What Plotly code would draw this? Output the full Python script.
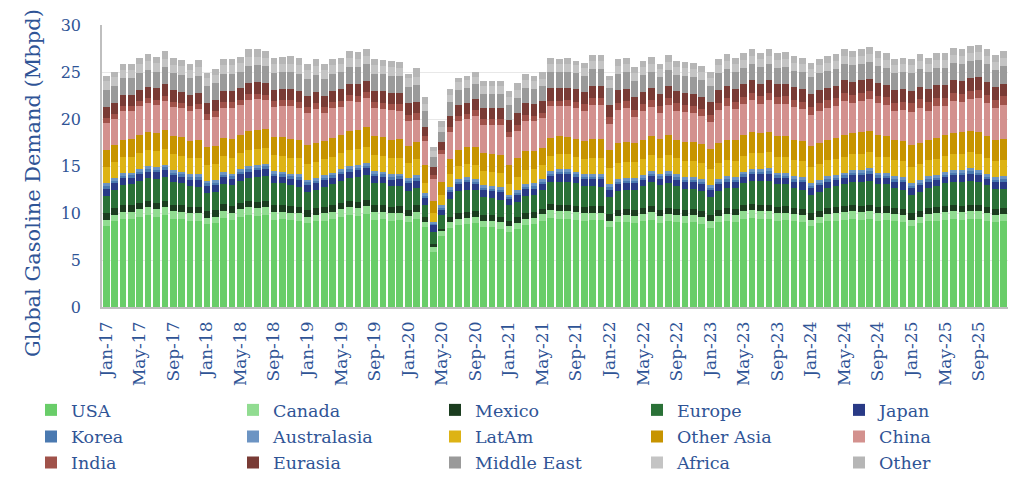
import plotly.graph_objects as go

MONTHS = ["Jan", "Feb", "Mar", "Apr", "May", "Jun", "Jul", "Aug", "Sep", "Oct", "Nov", "Dec"]
YEARS = ["17", "18", "19", "20", "21", "22", "23", "24", "25"]
CATEGORIES = [f"{m}-{y}" for y in YEARS for m in MONTHS]
TICK_LABELS = ["Jan-17", "May-17", "Sep-17", "Jan-18", "May-18", "Sep-18", "Jan-19", "May-19", "Sep-19",
               "Jan-20", "May-20", "Sep-20", "Jan-21", "May-21", "Sep-21", "Jan-22", "May-22", "Sep-22",
               "Jan-23", "May-23", "Sep-23", "Jan-24", "May-24", "Sep-24", "Jan-25", "May-25", "Sep-25"]

USA = [8.6, 9.1, 9.4, 9.4, 9.6, 9.8, 9.6, 9.8, 9.4, 9.4, 9.2, 9.2,
       8.8, 8.9, 9.5, 9.3, 9.6, 9.8, 9.7, 9.8, 9.3, 9.4, 9.3, 9.2,
       8.9, 9.1, 9.2, 9.4, 9.6, 9.8, 9.7, 9.9, 9.3, 9.4, 9.2, 9.3,
       9.0, 9.4, 8.5, 5.9, 7.6, 8.4, 8.7, 8.8, 8.9, 8.5, 8.5, 8.3,
       8.0, 8.3, 8.7, 8.8, 9.1, 9.5, 9.4, 9.4, 9.3, 9.2, 9.3, 9.3,
       8.5, 9.0, 9.0, 8.9, 9.1, 9.3, 8.9, 9.1, 9.0, 8.9, 9.0, 8.8,
       8.4, 9.0, 9.1, 9.0, 9.4, 9.5, 9.4, 9.4, 9.2, 9.3, 9.1, 9.0,
       8.6, 8.9, 9.1, 9.2, 9.3, 9.4, 9.3, 9.4, 9.2, 9.3, 9.1, 9.0,
       8.6, 8.9, 9.1, 9.2, 9.3, 9.4, 9.3, 9.4, 9.4, 9.2, 9.0, 9.1]
CANADA = [0.7, 0.7, 0.75, 0.75, 0.8, 0.8, 0.8, 0.8, 0.8, 0.75, 0.75, 0.75,
          0.7, 0.7, 0.75, 0.75, 0.8, 0.8, 0.8, 0.8, 0.8, 0.75, 0.75, 0.75,
          0.7, 0.7, 0.75, 0.75, 0.8, 0.8, 0.8, 0.8, 0.8, 0.75, 0.75, 0.75,
          0.7, 0.7, 0.55, 0.5, 0.45, 0.6, 0.7, 0.7, 0.7, 0.7, 0.7, 0.7,
          0.65, 0.65, 0.7, 0.7, 0.75, 0.8, 0.8, 0.8, 0.8, 0.75, 0.75, 0.75,
          0.7, 0.7, 0.75, 0.75, 0.8, 0.8, 0.8, 0.8, 0.8, 0.75, 0.75, 0.75,
          0.7, 0.7, 0.75, 0.75, 0.8, 0.8, 0.8, 0.8, 0.8, 0.75, 0.75, 0.75,
          0.7, 0.7, 0.75, 0.75, 0.8, 0.8, 0.8, 0.8, 0.8, 0.75, 0.75, 0.75,
          0.7, 0.7, 0.75, 0.75, 0.8, 0.8, 0.8, 0.8, 0.8, 0.75, 0.75, 0.75]
MEXICO = [0.7, 0.7, 0.7, 0.7, 0.7, 0.7, 0.7, 0.7, 0.7, 0.7, 0.7, 0.7,
          0.7, 0.7, 0.7, 0.7, 0.7, 0.7, 0.7, 0.7, 0.7, 0.7, 0.7, 0.7,
          0.7, 0.7, 0.7, 0.7, 0.7, 0.7, 0.7, 0.7, 0.7, 0.7, 0.7, 0.7,
          0.65, 0.7, 0.55, 0.3, 0.3, 0.55, 0.6, 0.6, 0.6, 0.6, 0.6, 0.6,
          0.55, 0.6, 0.6, 0.6, 0.6, 0.65, 0.65, 0.65, 0.65, 0.65, 0.65, 0.65,
          0.65, 0.65, 0.65, 0.65, 0.65, 0.65, 0.65, 0.65, 0.65, 0.65, 0.65, 0.65,
          0.65, 0.65, 0.65, 0.65, 0.65, 0.65, 0.65, 0.65, 0.65, 0.65, 0.65, 0.65,
          0.65, 0.65, 0.65, 0.65, 0.65, 0.65, 0.65, 0.65, 0.65, 0.65, 0.65, 0.65,
          0.65, 0.65, 0.65, 0.65, 0.65, 0.65, 0.65, 0.65, 0.65, 0.65, 0.65, 0.65]
EUROPE = [1.8, 1.9, 2.1, 2.2, 2.3, 2.4, 2.5, 2.5, 2.4, 2.3, 2.2, 2.1,
          1.9, 1.9, 2.1, 2.2, 2.3, 2.4, 2.6, 2.6, 2.4, 2.3, 2.2, 2.1,
          1.9, 1.9, 2.1, 2.2, 2.3, 2.4, 2.6, 2.6, 2.4, 2.3, 2.2, 2.1,
          2.0, 1.9, 1.3, 1.3, 1.4, 1.95, 2.3, 2.4, 2.2, 1.9, 1.8, 1.8,
          1.6, 1.6, 1.8, 1.8, 2.0, 2.3, 2.5, 2.5, 2.4, 2.3, 2.2, 2.1,
          1.9, 2.0, 2.1, 2.2, 2.3, 2.5, 2.6, 2.65, 2.45, 2.3, 2.2, 2.1,
          1.95, 2.0, 2.15, 2.25, 2.35, 2.5, 2.6, 2.6, 2.45, 2.35, 2.2, 2.1,
          1.95, 2.0, 2.15, 2.25, 2.35, 2.5, 2.6, 2.6, 2.45, 2.35, 2.2, 2.1,
          1.95, 2.0, 2.15, 2.25, 2.4, 2.5, 2.6, 2.6, 2.5, 2.35, 2.2, 2.1]
JAPAN = [0.85, 0.8, 0.8, 0.75, 0.75, 0.75, 0.8, 0.85, 0.75, 0.75, 0.75, 0.85,
         0.85, 0.8, 0.8, 0.75, 0.75, 0.75, 0.8, 0.85, 0.75, 0.75, 0.75, 0.85,
         0.85, 0.8, 0.8, 0.75, 0.75, 0.75, 0.8, 0.85, 0.75, 0.75, 0.75, 0.85,
         0.85, 0.8, 0.75, 0.75, 0.65, 0.8, 0.8, 0.8, 0.75, 0.75, 0.75, 0.85,
         0.7, 0.8, 0.8, 0.75, 0.7, 0.75, 0.8, 0.8, 0.75, 0.75, 0.75, 0.85,
         0.8, 0.75, 0.75, 0.7, 0.7, 0.7, 0.75, 0.8, 0.7, 0.7, 0.7, 0.8,
         0.8, 0.75, 0.75, 0.7, 0.7, 0.7, 0.75, 0.8, 0.7, 0.7, 0.7, 0.8,
         0.8, 0.75, 0.75, 0.7, 0.7, 0.7, 0.75, 0.8, 0.7, 0.7, 0.7, 0.8,
         0.8, 0.75, 0.75, 0.7, 0.7, 0.7, 0.75, 0.8, 0.7, 0.7, 0.7, 0.8]
KOREA = [0.2, 0.2, 0.2, 0.2, 0.2, 0.2, 0.2, 0.2, 0.2, 0.2, 0.2, 0.2,
         0.2, 0.2, 0.2, 0.2, 0.2, 0.2, 0.2, 0.2, 0.2, 0.2, 0.2, 0.2,
         0.2, 0.2, 0.2, 0.2, 0.2, 0.2, 0.2, 0.2, 0.2, 0.2, 0.2, 0.2,
         0.2, 0.2, 0.2, 0.1, 0.15, 0.2, 0.2, 0.2, 0.2, 0.2, 0.2, 0.2,
         0.15, 0.2, 0.2, 0.2, 0.2, 0.2, 0.2, 0.2, 0.2, 0.2, 0.2, 0.2,
         0.2, 0.2, 0.2, 0.2, 0.2, 0.2, 0.2, 0.2, 0.2, 0.2, 0.2, 0.2,
         0.2, 0.2, 0.2, 0.2, 0.2, 0.2, 0.2, 0.2, 0.2, 0.2, 0.2, 0.2,
         0.2, 0.2, 0.2, 0.2, 0.2, 0.2, 0.2, 0.2, 0.2, 0.2, 0.2, 0.2,
         0.2, 0.2, 0.2, 0.2, 0.2, 0.2, 0.2, 0.2, 0.2, 0.2, 0.2, 0.2]
AUSTRALASIA = [0.3, 0.3, 0.3, 0.3, 0.3, 0.3, 0.3, 0.3, 0.3, 0.3, 0.3, 0.3,
               0.3, 0.3, 0.3, 0.3, 0.3, 0.3, 0.3, 0.3, 0.3, 0.3, 0.3, 0.3,
               0.3, 0.3, 0.3, 0.3, 0.3, 0.3, 0.3, 0.3, 0.3, 0.3, 0.3, 0.3,
               0.3, 0.3, 0.3, 0.15, 0.25, 0.3, 0.3, 0.3, 0.3, 0.3, 0.3, 0.3,
               0.25, 0.3, 0.3, 0.3, 0.3, 0.3, 0.3, 0.3, 0.3, 0.3, 0.3, 0.3,
               0.3, 0.3, 0.3, 0.3, 0.3, 0.3, 0.3, 0.3, 0.3, 0.3, 0.3, 0.3,
               0.3, 0.3, 0.3, 0.3, 0.3, 0.3, 0.3, 0.3, 0.3, 0.3, 0.3, 0.3,
               0.3, 0.3, 0.3, 0.3, 0.3, 0.3, 0.3, 0.3, 0.3, 0.3, 0.3, 0.3,
               0.3, 0.3, 0.3, 0.3, 0.3, 0.3, 0.3, 0.3, 0.3, 0.3, 0.3, 0.3]
LATAM = [1.7, 1.7, 1.7, 1.7, 1.7, 1.7, 1.7, 1.7, 1.7, 1.7, 1.7, 1.7,
         1.7, 1.7, 1.7, 1.7, 1.7, 1.7, 1.7, 1.7, 1.7, 1.7, 1.7, 1.7,
         1.7, 1.7, 1.7, 1.7, 1.7, 1.7, 1.7, 1.7, 1.7, 1.7, 1.7, 1.7,
         1.6, 1.7, 1.0, 1.0, 1.1, 1.4, 1.4, 1.45, 1.5, 1.5, 1.5, 1.5,
         1.2, 1.4, 1.5, 1.5, 1.5, 1.6, 1.6, 1.6, 1.6, 1.6, 1.7, 1.7,
         1.7, 1.7, 1.7, 1.7, 1.7, 1.7, 1.7, 1.7, 1.7, 1.7, 1.7, 1.7,
         1.7, 1.7, 1.7, 1.7, 1.7, 1.7, 1.7, 1.7, 1.7, 1.7, 1.7, 1.7,
         1.7, 1.7, 1.7, 1.7, 1.7, 1.7, 1.7, 1.7, 1.7, 1.7, 1.7, 1.7,
         1.7, 1.7, 1.7, 1.7, 1.7, 1.7, 1.7, 1.7, 1.7, 1.7, 1.7, 1.7]
OTHER_ASIA = [1.8, 1.8, 1.85, 1.85, 1.9, 1.95, 1.95, 2.0, 1.95, 1.95, 1.9, 1.95,
              1.85, 1.9, 1.95, 2.0, 2.0, 2.05, 2.05, 2.0, 1.95, 2.0, 2.0, 2.0,
              2.0, 2.05, 1.95, 2.0, 2.0, 2.05, 2.05, 2.1, 2.0, 2.0, 2.0, 2.0,
              1.8, 1.9, 2.0, 1.25, 1.4, 1.5, 1.7, 1.75, 1.9, 1.9, 1.9, 1.9,
              2.0, 2.0, 2.0, 1.9, 1.8, 1.9, 1.9, 1.85, 1.9, 1.95, 2.05, 2.05,
              1.9, 2.1, 2.1, 2.0, 2.0, 2.0, 1.95, 2.05, 2.0, 2.05, 2.05, 2.0,
              2.1, 2.2, 2.2, 2.2, 2.2, 2.25, 2.15, 2.2, 2.2, 2.2, 2.2, 2.2,
              2.2, 2.2, 2.2, 2.2, 2.3, 2.25, 2.3, 2.3, 2.25, 2.2, 2.15, 2.2,
              2.3, 2.3, 2.2, 2.25, 2.2, 2.3, 2.3, 2.3, 2.35, 2.3, 2.25, 2.3]
CHINA = [2.9, 2.8, 3.0, 2.95, 3.1, 3.1, 2.95, 3.1, 3.1, 3.1, 3.1, 3.3,
         2.9, 3.1, 3.2, 3.3, 3.1, 3.35, 3.25, 3.05, 3.2, 3.3, 3.5, 3.4,
         3.4, 3.6, 2.95, 3.15, 2.95, 3.2, 3.0, 3.05, 3.0, 3.0, 3.15, 3.0,
         2.7, 2.3, 2.5, 2.4, 3.0, 2.9, 3.05, 3.0, 3.3, 3.0, 3.1, 3.2,
         3.0, 2.9, 3.2, 3.2, 3.2, 3.4, 3.2, 3.3, 3.3, 3.2, 3.6, 3.6,
         2.8, 3.6, 3.6, 2.85, 3.1, 3.1, 2.8, 3.2, 3.1, 3.2, 3.1, 3.0,
         2.85, 3.45, 3.6, 3.3, 3.25, 3.4, 3.05, 3.35, 3.35, 3.45, 3.45, 3.35,
         3.35, 3.45, 3.35, 3.4, 3.6, 3.2, 3.3, 3.35, 3.4, 3.3, 3.15, 3.25,
         3.55, 3.7, 3.1, 3.35, 3.1, 3.35, 3.2, 3.35, 3.6, 3.55, 3.4, 3.6]
INDIA = [0.55, 0.55, 0.55, 0.55, 0.55, 0.55, 0.55, 0.55, 0.55, 0.55, 0.55, 0.55,
         0.6, 0.6, 0.6, 0.6, 0.6, 0.6, 0.6, 0.6, 0.6, 0.6, 0.6, 0.6,
         0.65, 0.65, 0.65, 0.65, 0.65, 0.65, 0.65, 0.65, 0.65, 0.65, 0.65, 0.65,
         0.65, 0.7, 0.55, 0.35, 0.4, 0.6, 0.55, 0.55, 0.6, 0.6, 0.6, 0.6,
         0.5, 0.6, 0.65, 0.55, 0.45, 0.55, 0.6, 0.6, 0.6, 0.65, 0.7, 0.7,
         0.75, 0.75, 0.75, 0.75, 0.75, 0.75, 0.75, 0.75, 0.75, 0.75, 0.75, 0.75,
         0.8, 0.8, 0.8, 0.8, 0.8, 0.8, 0.8, 0.8, 0.8, 0.8, 0.8, 0.8,
         0.85, 0.85, 0.85, 0.85, 0.85, 0.85, 0.85, 0.85, 0.85, 0.85, 0.85, 0.85,
         0.9, 0.9, 0.9, 0.9, 0.9, 0.9, 0.9, 0.9, 0.9, 0.9, 0.9, 0.9]
EURASIA = [1.2, 1.2, 1.2, 1.2, 1.2, 1.2, 1.2, 1.2, 1.2, 1.2, 1.2, 1.2,
           1.2, 1.2, 1.2, 1.2, 1.2, 1.2, 1.2, 1.2, 1.2, 1.2, 1.2, 1.2,
           1.2, 1.2, 1.2, 1.2, 1.2, 1.2, 1.2, 1.2, 1.2, 1.2, 1.2, 1.2,
           1.2, 1.2, 1.0, 0.85, 0.9, 1.15, 1.2, 1.2, 1.2, 1.2, 1.2, 1.2,
           1.3, 1.3, 1.3, 1.3, 1.3, 1.35, 1.35, 1.35, 1.35, 1.35, 1.35, 1.35,
           1.3, 1.3, 1.3, 1.3, 1.3, 1.3, 1.3, 1.3, 1.3, 1.3, 1.3, 1.3,
           1.35, 1.35, 1.35, 1.35, 1.35, 1.35, 1.35, 1.35, 1.35, 1.35, 1.35, 1.35,
           1.35, 1.35, 1.35, 1.35, 1.35, 1.35, 1.35, 1.35, 1.35, 1.35, 1.35, 1.35,
           1.35, 1.35, 1.35, 1.35, 1.35, 1.35, 1.35, 1.35, 1.35, 1.35, 1.35, 1.35]
MIDDLE_EAST = [1.8, 1.8, 1.8, 1.8, 1.8, 1.8, 1.8, 1.8, 1.8, 1.8, 1.8, 1.8,
               1.8, 1.8, 1.8, 1.8, 1.8, 1.8, 1.8, 1.8, 1.8, 1.8, 1.8, 1.8,
               1.8, 1.8, 1.8, 1.8, 1.8, 1.8, 1.8, 1.8, 1.8, 1.8, 1.8, 1.8,
               1.8, 1.8, 1.6, 1.1, 1.0, 1.5, 1.6, 1.55, 1.55, 1.55, 1.55, 1.55,
               1.6, 1.6, 1.6, 1.6, 1.6, 1.7, 1.7, 1.7, 1.7, 1.7, 1.75, 1.75,
               1.75, 1.75, 1.75, 1.75, 1.75, 1.75, 1.75, 1.75, 1.75, 1.75, 1.75, 1.75,
               1.75, 1.75, 1.75, 1.75, 1.75, 1.75, 1.75, 1.75, 1.75, 1.75, 1.75, 1.75,
               1.8, 1.8, 1.8, 1.8, 1.8, 1.8, 1.8, 1.8, 1.8, 1.8, 1.8, 1.8,
               1.85, 1.85, 1.85, 1.85, 1.85, 1.85, 1.85, 1.85, 1.85, 1.85, 1.85, 1.85]
AFRICA = [0.9, 0.9, 0.9, 0.9, 0.9, 0.9, 0.9, 0.9, 0.9, 0.9, 0.9, 0.9,
          0.9, 0.9, 0.9, 0.9, 0.9, 0.9, 0.9, 0.9, 0.9, 0.9, 0.9, 0.9,
          0.9, 0.9, 0.9, 0.9, 0.9, 0.9, 0.9, 0.9, 0.9, 0.9, 0.9, 0.9,
          0.9, 0.9, 0.8, 0.6, 0.6, 0.75, 0.8, 0.8, 0.8, 0.8, 0.8, 0.8,
          0.8, 0.8, 0.8, 0.8, 0.8, 0.85, 0.85, 0.85, 0.85, 0.85, 0.85, 0.85,
          0.85, 0.85, 0.85, 0.85, 0.85, 0.85, 0.85, 0.85, 0.85, 0.85, 0.85, 0.85,
          0.85, 0.85, 0.85, 0.85, 0.85, 0.85, 0.85, 0.85, 0.85, 0.85, 0.85, 0.85,
          0.85, 0.85, 0.85, 0.85, 0.85, 0.85, 0.85, 0.85, 0.85, 0.85, 0.85, 0.85,
          0.85, 0.85, 0.85, 0.85, 0.85, 0.85, 0.85, 0.85, 0.85, 0.85, 0.85, 0.85]
OTHER = [0.6, 0.55, 0.65, 0.65, 0.7, 0.75, 0.65, 0.8, 0.75, 0.7, 0.65, 0.8,
         0.5, 0.6, 0.7, 0.7, 0.65, 0.85, 0.8, 0.7, 0.7, 0.7, 0.8, 0.8,
         0.7, 0.8, 0.6, 0.7, 0.65, 0.8, 0.7, 0.75, 0.7, 0.65, 0.7, 0.65,
         0.45, 0.9, 0.7, 0.5, 0.6, 0.6, 0.5, 0.5, 0.5, 0.5, 0.5, 0.5,
         0.7, 0.75, 0.65, 0.6, 0.7, 0.65, 0.55, 0.6, 0.5, 0.55, 0.65, 0.65,
         0.5, 0.75, 0.7, 0.6, 0.7, 0.7, 0.5, 0.7, 0.65, 0.7, 0.7, 0.65,
         0.6, 0.7, 0.75, 0.7, 0.7, 0.75, 0.65, 0.75, 0.7, 0.75, 0.7, 0.7,
         0.7, 0.7, 0.7, 0.7, 0.75, 0.7, 0.75, 0.75, 0.7, 0.7, 0.65, 0.7,
         0.7, 0.75, 0.65, 0.7, 0.7, 0.75, 0.75, 0.75, 0.75, 0.75, 0.7, 0.75]

SERIES = [
    ("USA", USA, "#69cd69", "legend"),
    ("Canada", CANADA, "#91dc91", "legend"),
    ("Mexico", MEXICO, "#1b3d1f", "legend"),
    ("Europe", EUROPE, "#2a7137", "legend"),
    ("Japan", JAPAN, "#293a86", "legend"),
    ("Korea", KOREA, "#4a79b0", "legend2"),
    ("Australasia", AUSTRALASIA, "#6c94c3", "legend2"),
    ("LatAm", LATAM, "#ddb315", "legend2"),
    ("Other Asia", OTHER_ASIA, "#c79400", "legend2"),
    ("China", CHINA, "#d3918e", "legend2"),
    ("India", INDIA, "#a0524a", "legend3"),
    ("Eurasia", EURASIA, "#793b35", "legend3"),
    ("Middle East", MIDDLE_EAST, "#9a9a9a", "legend3"),
    ("Africa", AFRICA, "#c4c4c4", "legend3"),
    ("Other", OTHER, "#b6b6b6", "legend3"),
]

FONT = "DejaVu Serif"
TXT = "#2f5496"

fig = go.Figure()
for name, vals, color, leg in SERIES:
    fig.add_trace(go.Bar(x=CATEGORIES, y=vals, name=name, marker_color=color,
                         marker_line_width=0, legend=leg))

L, R, T, B = 102, 16, 25, 175
W, H = 1024, 482
pw, ph = W - L - R, H - T - B

def legend_cfg(ypx):
    return dict(orientation="h", x=(31 - L) / pw, xanchor="left",
                y=(H - B - ypx) / ph, yanchor="middle",
                entrywidth=157, entrywidthmode="pixels",
                font=dict(family=FONT, size=17.5, color=TXT),
                bgcolor="rgba(0,0,0,0)", borderwidth=0, traceorder="normal")

fig.update_layout(
    width=W, height=H,
    margin=dict(l=L, r=R, t=T, b=B, autoexpand=False),
    barmode="stack", bargap=0.2,
    plot_bgcolor="white", paper_bgcolor="white",
    font=dict(family=FONT, color=TXT),
    legend=legend_cfg(410),
    legend2=legend_cfg(436.5),
    legend3=legend_cfg(462.5),
    xaxis=dict(type="category", tickmode="array", tickvals=TICK_LABELS, ticktext=TICK_LABELS,
               tickangle=-90, tickfont=dict(family=FONT, size=17, color=TXT),
               showline=True, linecolor="#bfbfbf", linewidth=1.5,
               ticks="outside", ticklen=6, tickcolor="rgba(0,0,0,0)",
               showgrid=False, range=[-0.5, 107.5]),
    yaxis=dict(range=[0, 30], dtick=5, tickfont=dict(family=FONT, size=16, color=TXT),
               showline=True, linecolor="#bfbfbf", linewidth=1.5,
               gridcolor="#e8e8e8", gridwidth=1,
               ticks="outside", ticklen=16, tickcolor="rgba(0,0,0,0)",
               zeroline=False),
    annotations=[dict(text="Global Gasoline Demand (Mbpd)", textangle=-90,
                      xref="paper", yref="paper",
                      x=(33 - L) / pw, y=(H - B - 183) / ph,
                      xanchor="center", yanchor="middle", showarrow=False,
                      font=dict(family=FONT, size=21, color=TXT))],
)

fig.write_html("out.html")
